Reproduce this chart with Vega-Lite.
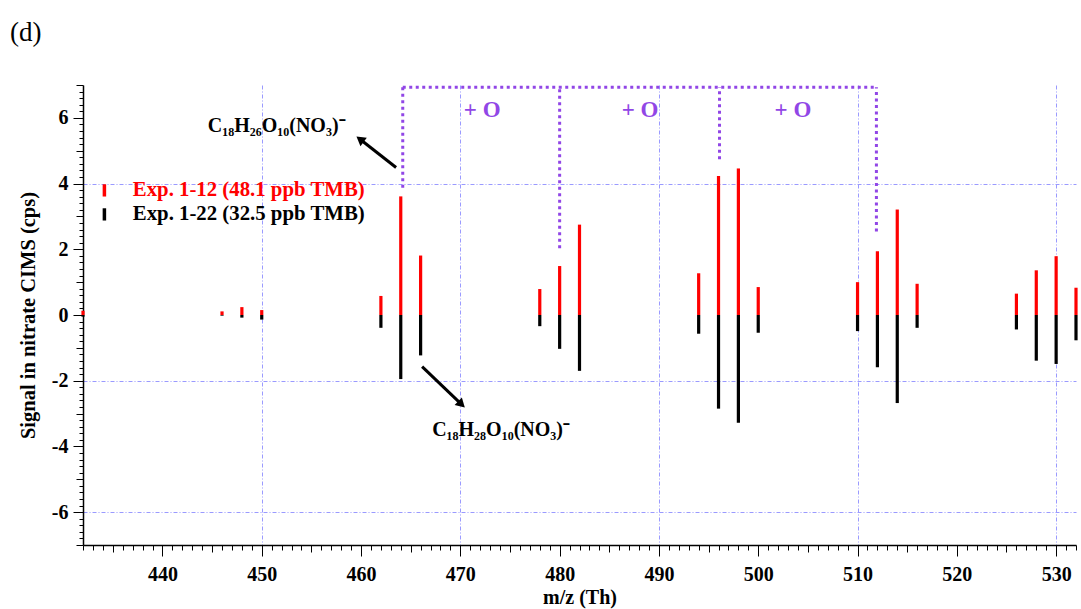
{
  "$schema": "https://vega.github.io/schema/vega-lite/v6.json",
  "width": 993,
  "height": 460,
  "autosize": "none",
  "padding": {"left": 83, "top": 85, "right": 5, "bottom": 64},
  "background": "white",
  "title": {"text": "(d)", "anchor": "start", "frame": "group", "font": "Liberation Serif", "fontSize": 27, "fontWeight": "normal", "color": "black", "dx": -73, "offset": 7, "baseline": "alphabetic"},
  "config": {"view": {"stroke": null}, "font": "Liberation Serif"},
  "datasets": {
    "spectra": [
      {"mz": 432, "series": "Exp. 1-12 (48.1 ppb TMB)", "signal": 0.13},
      {"mz": 446, "series": "Exp. 1-12 (48.1 ppb TMB)", "signal": 0.11},
      {"mz": 448, "series": "Exp. 1-12 (48.1 ppb TMB)", "signal": 0.24},
      {"mz": 450, "series": "Exp. 1-12 (48.1 ppb TMB)", "signal": 0.15},
      {"mz": 462, "series": "Exp. 1-12 (48.1 ppb TMB)", "signal": 0.58},
      {"mz": 464, "series": "Exp. 1-12 (48.1 ppb TMB)", "signal": 3.61},
      {"mz": 466, "series": "Exp. 1-12 (48.1 ppb TMB)", "signal": 1.81},
      {"mz": 478, "series": "Exp. 1-12 (48.1 ppb TMB)", "signal": 0.79},
      {"mz": 480, "series": "Exp. 1-12 (48.1 ppb TMB)", "signal": 1.49},
      {"mz": 482, "series": "Exp. 1-12 (48.1 ppb TMB)", "signal": 2.75},
      {"mz": 494, "series": "Exp. 1-12 (48.1 ppb TMB)", "signal": 1.27},
      {"mz": 496, "series": "Exp. 1-12 (48.1 ppb TMB)", "signal": 4.23},
      {"mz": 498, "series": "Exp. 1-12 (48.1 ppb TMB)", "signal": 4.46},
      {"mz": 500, "series": "Exp. 1-12 (48.1 ppb TMB)", "signal": 0.85},
      {"mz": 510, "series": "Exp. 1-12 (48.1 ppb TMB)", "signal": 1.0},
      {"mz": 512, "series": "Exp. 1-12 (48.1 ppb TMB)", "signal": 1.94},
      {"mz": 514, "series": "Exp. 1-12 (48.1 ppb TMB)", "signal": 3.21},
      {"mz": 516, "series": "Exp. 1-12 (48.1 ppb TMB)", "signal": 0.95},
      {"mz": 526, "series": "Exp. 1-12 (48.1 ppb TMB)", "signal": 0.65},
      {"mz": 528, "series": "Exp. 1-12 (48.1 ppb TMB)", "signal": 1.36},
      {"mz": 530, "series": "Exp. 1-12 (48.1 ppb TMB)", "signal": 1.79},
      {"mz": 532, "series": "Exp. 1-12 (48.1 ppb TMB)", "signal": 0.83},
      {"mz": 432, "series": "Exp. 1-22 (32.5 ppb TMB)", "signal": -0.05},
      {"mz": 446, "series": "Exp. 1-22 (32.5 ppb TMB)", "signal": -0.02},
      {"mz": 448, "series": "Exp. 1-22 (32.5 ppb TMB)", "signal": -0.08},
      {"mz": 450, "series": "Exp. 1-22 (32.5 ppb TMB)", "signal": -0.14},
      {"mz": 462, "series": "Exp. 1-22 (32.5 ppb TMB)", "signal": -0.39},
      {"mz": 464, "series": "Exp. 1-22 (32.5 ppb TMB)", "signal": -1.95},
      {"mz": 466, "series": "Exp. 1-22 (32.5 ppb TMB)", "signal": -1.23},
      {"mz": 478, "series": "Exp. 1-22 (32.5 ppb TMB)", "signal": -0.34},
      {"mz": 480, "series": "Exp. 1-22 (32.5 ppb TMB)", "signal": -1.03},
      {"mz": 482, "series": "Exp. 1-22 (32.5 ppb TMB)", "signal": -1.70},
      {"mz": 494, "series": "Exp. 1-22 (32.5 ppb TMB)", "signal": -0.57},
      {"mz": 496, "series": "Exp. 1-22 (32.5 ppb TMB)", "signal": -2.85},
      {"mz": 498, "series": "Exp. 1-22 (32.5 ppb TMB)", "signal": -3.28},
      {"mz": 500, "series": "Exp. 1-22 (32.5 ppb TMB)", "signal": -0.54},
      {"mz": 510, "series": "Exp. 1-22 (32.5 ppb TMB)", "signal": -0.49},
      {"mz": 512, "series": "Exp. 1-22 (32.5 ppb TMB)", "signal": -1.59},
      {"mz": 514, "series": "Exp. 1-22 (32.5 ppb TMB)", "signal": -2.68},
      {"mz": 516, "series": "Exp. 1-22 (32.5 ppb TMB)", "signal": -0.39},
      {"mz": 526, "series": "Exp. 1-22 (32.5 ppb TMB)", "signal": -0.44},
      {"mz": 528, "series": "Exp. 1-22 (32.5 ppb TMB)", "signal": -1.39},
      {"mz": 530, "series": "Exp. 1-22 (32.5 ppb TMB)", "signal": -1.49},
      {"mz": 532, "series": "Exp. 1-22 (32.5 ppb TMB)", "signal": -0.77}
    ],
    "bracket": [
      {"x": 464.2, "x2": 464.2, "y": 3.87, "y2": 6.93},
      {"x": 480.0, "x2": 480.0, "y": 2.03, "y2": 6.93},
      {"x": 496.1, "x2": 496.1, "y": 4.74, "y2": 6.93},
      {"x": 511.9, "x2": 511.9, "y": 2.54, "y2": 6.93},
      {"x": 464.2, "x2": 511.9, "y": 6.93, "y2": 6.93}
    ],
    "plusO": [
      {"x": 472.2, "y": 6.02, "label": "+ O"},
      {"x": 488.1, "y": 6.02, "label": "+ O"},
      {"x": 503.5, "y": 6.02, "label": "+ O"}
    ],
    "arrowUp": [{"x": 463.53, "y": 4.49, "x2": 459.9, "y2": 5.35}],
    "arrowDown": [{"x": 466.15, "y": -1.57, "x2": 470.12, "y2": -2.72}],
    "labels": [
      {"x": 451.5, "y": 5.57, "label": "C₁₈H₂₆O₁₀(NO₃)⁻"},
      {"x": 474.1, "y": -3.68, "label": "C₁₈H₂₈O₁₀(NO₃)⁻"}
    ]
  },
  "layer": [
    {
      "data": {"name": "spectra"},
      "mark": {"type": "rule", "strokeWidth": 3.2},
      "encoding": {
        "x": {
          "field": "mz", "type": "quantitative",
          "scale": {"domain": [432, 532], "nice": false, "zero": false},
          "axis": {
            "title": "m/z (Th)", "titleFont": "Liberation Serif", "titleFontSize": 20, "titleFontWeight": "bold", "titleColor": "black",
            "titleY": 58, "titleBaseline": "alphabetic",
            "tickCount": 100,
            "labelExpr": "datum.value % 10 === 0 ? '' + datum.value : ''",
            "labelFont": "Liberation Serif", "labelFontSize": 20, "labelFontWeight": "bold", "labelColor": "black",
            "labelPadding": 8, "labelFlush": false, "labelOverlap": false,
            "tickSize": {"condition": [{"test": "datum.value % 10 === 0", "value": 11}, {"test": "datum.value % 5 === 0", "value": 7}], "value": 5},
            "tickColor": "black", "tickWidth": 1,
            "domainColor": "black", "domainWidth": 1.5,
            "grid": true, "gridColor": "#9a9aff", "gridDash": [4, 2, 1, 2], "gridWidth": 1,
            "gridOpacity": {"condition": {"test": "(datum.value - 450) % 20 === 0", "value": 1}, "value": 0}
          }
        },
        "y": {
          "field": "signal", "type": "quantitative",
          "scale": {"domain": [-7, 7], "nice": false, "zero": false},
          "axis": {
            "title": "Signal in nitrate CIMS (cps)", "titleFont": "Liberation Serif", "titleFontSize": 20.5, "titleFontWeight": "bold", "titleColor": "black",
            "titleX": -48.5, "titleY": 230, "titleAngle": -90, "titleAlign": "center", "titleBaseline": "alphabetic",
            "tickCount": 70,
            "labelExpr": "datum.value % 2 === 0 ? '' + datum.value : ''",
            "labelFont": "Liberation Serif", "labelFontSize": 20, "labelFontWeight": "bold", "labelColor": "black",
            "labelPadding": 5, "labelFlush": false, "labelOverlap": false,
            "tickSize": {"condition": [{"test": "datum.value % 2 === 0", "value": 10}, {"test": "datum.value % 1 === 0", "value": 7}], "value": 4},
            "tickColor": "black", "tickWidth": 1,
            "domainColor": "black", "domainWidth": 1.5,
            "grid": true, "gridColor": "#9a9aff", "gridDash": [4, 2, 1, 2], "gridWidth": 1,
            "gridOpacity": {"condition": {"test": "datum.value === 4 || datum.value === -2 || datum.value === -6", "value": 1}, "value": 0}
          }
        },
        "y2": {"datum": 0},
        "color": {
          "field": "series", "type": "nominal",
          "scale": {"domain": ["Exp. 1-12 (48.1 ppb TMB)", "Exp. 1-22 (32.5 ppb TMB)"], "range": ["#ff0000", "#000000"]},
          "legend": {
            "orient": "none", "legendX": 11, "legendY": 95, "title": null,
            "symbolType": "M0,-1L0,1", "symbolSize": 150, "symbolStrokeWidth": 3.5,
            "labelFont": "Liberation Serif", "labelFontSize": 20.8, "labelFontWeight": "bold",
            "labelOffset": 18, "rowPadding": -7, "labelLimit": 400,
            "encode": {"labels": {"update": {"fill": {"signal": "datum.value === 'Exp. 1-12 (48.1 ppb TMB)' ? '#ff0000' : '#000000'"}}}}
          }
        }
      }
    },
    {
      "mark": {"type": "rule", "color": "black", "strokeWidth": 2},
      "encoding": {"y": {"datum": 0}}
    },
    {
      "data": {"name": "bracket"},
      "mark": {"type": "rule", "color": "#9146e6", "strokeWidth": 3, "strokeDash": [3, 3.5]},
      "encoding": {
        "x": {"field": "x", "type": "quantitative"},
        "x2": {"field": "x2"},
        "y": {"field": "y", "type": "quantitative"},
        "y2": {"field": "y2"}
      }
    },
    {
      "data": {"name": "plusO"},
      "mark": {"type": "text", "font": "Liberation Serif", "fontSize": 23, "fontWeight": "bold", "color": "#9146e6", "align": "center", "baseline": "alphabetic"},
      "encoding": {
        "x": {"field": "x", "type": "quantitative"},
        "y": {"field": "y", "type": "quantitative"},
        "text": {"field": "label"}
      }
    },
    {
      "data": {"name": "labels"},
      "mark": {"type": "text", "font": "Liberation Serif", "fontSize": 20, "fontWeight": "bold", "color": "black", "align": "center", "baseline": "alphabetic"},
      "encoding": {
        "x": {"field": "x", "type": "quantitative"},
        "y": {"field": "y", "type": "quantitative"},
        "text": {"field": "label"}
      }
    },
    {
      "data": {"name": "arrowUp"},
      "layer": [
        {
          "mark": {"type": "rule", "color": "black", "strokeWidth": 3},
          "encoding": {
            "x": {"field": "x", "type": "quantitative"},
            "x2": {"field": "x2"},
            "y": {"field": "y", "type": "quantitative"},
            "y2": {"field": "y2"}
          }
        },
        {
          "mark": {"type": "point", "shape": "triangle-up", "filled": true, "color": "black", "opacity": 1, "size": 110, "angle": 307.7},
          "encoding": {
            "x": {"field": "x2", "type": "quantitative"},
            "y": {"field": "y2", "type": "quantitative"}
          }
        }
      ]
    },
    {
      "data": {"name": "arrowDown"},
      "layer": [
        {
          "mark": {"type": "rule", "color": "black", "strokeWidth": 3},
          "encoding": {
            "x": {"field": "x", "type": "quantitative"},
            "x2": {"field": "x2"},
            "y": {"field": "y", "type": "quantitative"},
            "y2": {"field": "y2"}
          }
        },
        {
          "mark": {"type": "point", "shape": "triangle-up", "filled": true, "color": "black", "opacity": 1, "size": 110, "angle": 133.6},
          "encoding": {
            "x": {"field": "x2", "type": "quantitative"},
            "y": {"field": "y2", "type": "quantitative"}
          }
        }
      ]
    }
  ]
}
